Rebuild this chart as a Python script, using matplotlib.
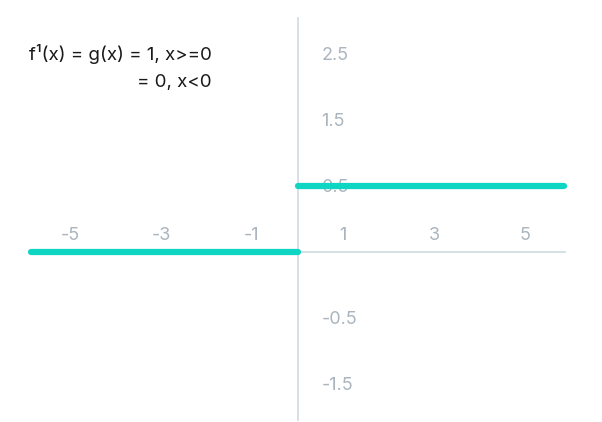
import matplotlib
matplotlib.use("Agg")
import matplotlib.pyplot as plt
from matplotlib import transforms

plt.rcParams['font.family'] = ['Inter', 'DejaVu Sans']

# step function g(x)
x_neg = [-5.85, 0]
y_neg = [0, 0]
x_pos = [0, 5.85]
y_pos = [1, 1]

x_ticks = [-5, -3, -1, 1, 3, 5]
y_ticks = [3, 2, 1, -1, -2]
y_tick_labels = ["2.5", "1.5", "0.5", "-0.5", "-1.5"]

line_color = "#0fd6c3"
axis_color = "#d3dde3"
label_color = "#aab5bf"

fig = plt.figure(figsize=(6.02, 4.22), dpi=100)
ax = fig.add_axes([0, 0, 1, 1])

# 45.5 px per x unit, 66 px per y unit
ax.set_xlim(-297.5 / 45.5, 304.5 / 45.5)
ax.set_ylim(-170 / 66, 252 / 66)

for s in ["top", "right"]:
    ax.spines[s].set_visible(False)
ax.spines["left"].set_position(("data", 0))
ax.spines["bottom"].set_position(("data", 0))
ax.spines["left"].set_bounds(-168 / 66, 234 / 66)
ax.spines["bottom"].set_bounds(-5.88, 5.88)
for s in ["left", "bottom"]:
    ax.spines[s].set_color(axis_color)
    ax.spines[s].set_linewidth(1.3)

ax.set_xticks(x_ticks)
ax.set_xticklabels([str(t) for t in x_ticks])
ax.set_yticks(y_ticks)
ax.set_yticklabels(y_tick_labels)
ax.tick_params(axis="both", length=0, labelsize=13, labelcolor=label_color)
ax.tick_params(axis="x", pad=0)

# x labels sit above the axis, y labels right of it
for lab in ax.get_xticklabels():
    lab.set_transform(lab.get_transform() + transforms.ScaledTranslation(0, 0.25, fig.dpi_scale_trans))
for lab in ax.get_yticklabels():
    lab.set_horizontalalignment("left")
    lab.set_transform(lab.get_transform() + transforms.ScaledTranslation(0.29, 0.01, fig.dpi_scale_trans))

ax.plot(x_neg, y_neg, color=line_color, lw=4.5, solid_capstyle="round", zorder=3)
ax.plot(x_pos, y_pos, color=line_color, lw=4.5, solid_capstyle="round", zorder=3)

fig.text(212 / 602, 1 - 54 / 422, "f\u00b9(x) = g(x) = 1, x>=0", ha="right", va="center",
         fontsize=13.5, color="#1a1a1a")
fig.text(212 / 602, 1 - 83 / 422, "= 0, x<0", ha="right", va="center",
         fontsize=13.5, color="#1a1a1a")

fig.savefig("out.png", dpi=100)
